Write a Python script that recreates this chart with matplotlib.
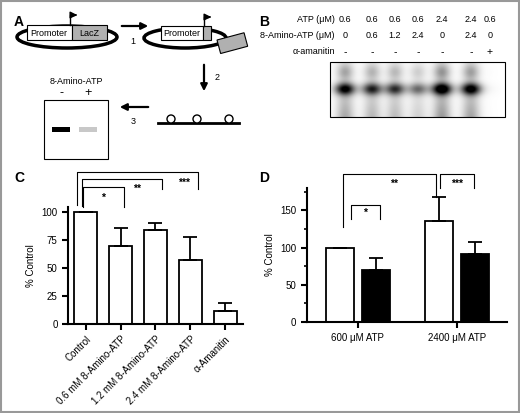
import matplotlib
matplotlib.use("Agg")
import matplotlib.pyplot as plt
import numpy as np
from matplotlib.patches import Rectangle, Ellipse, Circle

plt.rcParams["font.family"] = ["Liberation Sans", "DejaVu Sans"]

# panel B gel
atp_um = ["0.6", "0.6", "0.6", "0.6", "2.4", "2.4", "0.6"]
amino_um = ["0", "0.6", "1.2", "2.4", "0", "2.4", "0"]
amanitin = ["-", "-", "-", "-", "-", "-", "+"]
band_strength = [0.85, 0.7, 0.65, 0.45, 1.0, 0.9, 0.02]

# panel C
c_labels = ["Control", "0.6 mM 8-Amino-ATP", "1.2 mM 8-Amino-ATP",
            "2.4 mM 8-Amino-ATP", "\u03b1-Amanitin"]
c_values = [100, 70, 84, 57, 12]
c_err = [0, 16, 7, 21, 7]

# panel D
d_groups = ["600 \u03bcM ATP", "2400 \u03bcM ATP"]
d_ctrl = [100, 136]
d_ctrl_err = [0, 32]
d_amino = [70, 92]
d_amino_err = [16, 16]

fig = plt.figure(figsize=(5.2, 4.13), dpi=100)
fig.patch.set_facecolor("white")
ov = fig.add_axes([0, 0, 1, 1])
ov.set_xlim(0, 520)
ov.set_ylim(413, 0)
ov.axis("off")
ov.add_patch(Rectangle((1, 1), 518, 411, fill=False, ec="#999999", lw=1.5))

# ---- panel A ----
ov.text(14, 22, "A", fontsize=10, fontweight="bold", va="center")
ov.add_patch(Ellipse((67, 37), 100, 22, fill=False, lw=2.5, ec="black"))
ov.add_patch(Rectangle((27, 25), 45, 15, fc="white", ec="black", lw=0.8))
ov.add_patch(Rectangle((72, 25), 35, 15, fc="#b0b0b0", ec="black", lw=0.8))
ov.text(49, 33, "Promoter", fontsize=6.5, ha="center", va="center")
ov.text(89, 33, "LacZ", fontsize=6.5, ha="center", va="center")
ov.plot([70, 70, 74], [25, 15, 15], color="black", lw=1)
ov.annotate("", xy=(80, 15), xytext=(72, 15), arrowprops=dict(arrowstyle="-|>", color="black", lw=1))
ov.annotate("", xy=(151, 26), xytext=(119, 26), arrowprops=dict(arrowstyle="-|>", color="black", lw=1.6))
ov.text(133, 41, "1", fontsize=6.5, ha="center", va="center")

ov.add_patch(Ellipse((185, 38), 82, 20, fill=False, lw=2.5, ec="black"))
ov.add_patch(Rectangle((161, 26), 42, 14, fc="white", ec="black", lw=0.8))
ov.add_patch(Rectangle((203, 26), 8, 14, fc="#b0b0b0", ec="black", lw=0.8))
ov.text(182, 33, "Promoter", fontsize=6.5, ha="center", va="center")
ov.plot([204, 204, 208], [26, 17, 17], color="black", lw=1)
ov.annotate("", xy=(214, 17), xytext=(206, 17), arrowprops=dict(arrowstyle="-|>", color="black", lw=1))
ov.add_patch(Rectangle((217, 40), 28, 14, angle=-15, fc="#b0b0b0", ec="black", lw=0.8))
ov.annotate("", xy=(204, 94), xytext=(204, 62), arrowprops=dict(arrowstyle="-|>", color="black", lw=1.6))
ov.text(217, 77, "2", fontsize=6.5, ha="center", va="center")

ov.plot([158, 239], [123, 123], color="black", lw=2)
for cx in [171, 197, 229]:
    ov.add_patch(Circle((cx, 119), 4, fc="white", ec="black", lw=1, zorder=3))
ov.annotate("", xy=(117, 107), xytext=(151, 107), arrowprops=dict(arrowstyle="-|>", color="black", lw=1.6))
ov.text(133, 122, "3", fontsize=6.5, ha="center", va="center")

ov.text(76, 81, "8-Amino-ATP", fontsize=6.5, ha="center", va="center")
ov.text(62, 93, "-", fontsize=9, ha="center", va="center")
ov.text(88, 93, "+", fontsize=9, ha="center", va="center")
ov.add_patch(Rectangle((44, 100), 64, 59, fc="white", ec="black", lw=0.8))
ov.add_patch(Rectangle((52, 127), 18, 5, fc="black", ec="none"))
ov.add_patch(Rectangle((79, 127), 18, 5, fc="#c8c8c8", ec="none"))

# ---- panel B ----
ov.text(259, 22, "B", fontsize=10, fontweight="bold", va="center")
col_x = [345, 372, 395, 418, 442, 471, 490]
ov.text(335, 20, "ATP (\u03bcM)", fontsize=6.5, ha="right", va="center")
ov.text(335, 35, "8-Amino-ATP (\u03bcM)", fontsize=6.5, ha="right", va="center")
ov.text(335, 52, "\u03b1-amanitin", fontsize=6.5, ha="right", va="center")
for x, a, b, m in zip(col_x, atp_um, amino_um, amanitin):
    ov.text(x, 20, a, fontsize=6.5, ha="center", va="center")
    ov.text(x, 35, b, fontsize=6.5, ha="center", va="center")
    ov.text(x, 52, m, fontsize=7.5, ha="center", va="center")
gx = np.linspace(330, 505, 350)
gy = np.linspace(62, 117, 110)
X, Y = np.meshgrid(gx, gy)
img = np.zeros_like(X)
for x, s in zip(col_x, band_strength):
    img += 1.1 * s * np.exp(-((X - x) / 10) ** 2 - ((Y - 89) / 6) ** 2)
    img += 0.4 * s * np.exp(-((X - x) / 9) ** 2) * np.clip((Y - 62) / 55, 0.3, 1)
    img += 0.3 * s * np.exp(-((X - x) / 8) ** 2 - ((Y - 72) / 8) ** 2)
ov.imshow(1 - np.clip(img, 0, 1), cmap="gray", vmin=0, vmax=1,
          extent=(330, 505, 117, 62), aspect="auto", zorder=1)
ov.add_patch(Rectangle((330, 62), 175, 55, fill=False, ec="black", lw=0.8, zorder=2))

ov.text(14, 178, "C", fontsize=10, fontweight="bold", va="center")
ov.text(259, 178, "D", fontsize=10, fontweight="bold", va="center")


def style(ax):
    for s in ["top", "right"]:
        ax.spines[s].set_visible(False)
    for s in ["left", "bottom"]:
        ax.spines[s].set_linewidth(1.5)
    ax.tick_params(width=1.5, labelsize=7, length=4)


def bracket(ax, x0, x1, top, y0, y1, label, lx, ly):
    ax.plot([x0, x0, x1, x1], [y0, top, top, y1], color="black", lw=0.8, clip_on=False)
    ax.text(lx, ly, label, fontsize=7.5, fontweight="bold", ha="center", va="center")


# ---- panel C ----
axc = fig.add_axes([0.131, 0.2155, 0.336, 0.2835])
x = np.arange(len(c_values))
axc.bar(x, c_values, width=0.65, color="white", edgecolor="black", lw=1.3)
axc.errorbar(x, c_values, yerr=[np.zeros(len(c_err)), c_err], fmt="none", ecolor="black",
             elinewidth=1.3, capsize=5, capthick=1.3)
axc.set_xlim(-0.5, 4.5)
axc.set_ylim(0, 105)
axc.set_yticks([0, 25, 50, 75, 100])
axc.set_xticks(x)
axc.set_xticklabels(c_labels, rotation=45, ha="right", rotation_mode="anchor")
axc.set_ylabel("% Control", fontsize=7)
style(axc)
bracket(axc, -0.26, 3.23, 136, 107, 121, "***", 2.83, 127)
bracket(axc, -0.11, 2.2, 130, 106, 121, "**", 1.46, 121)
bracket(axc, -0.06, 1.09, 122.5, 105, 105, "*", 0.5, 113)

# ---- panel D ----
axd = fig.add_axes([0.590, 0.220, 0.385, 0.325])
g = np.arange(len(d_groups))
axd.bar(g - 0.18, d_ctrl, width=0.28, color="white", edgecolor="black", lw=1.3)
axd.bar(g + 0.18, d_amino, width=0.28, color="black", edgecolor="black", lw=1.3)
axd.errorbar(g - 0.18, d_ctrl, yerr=[np.zeros(2), d_ctrl_err], fmt="none", ecolor="black",
             elinewidth=1.3, capsize=5, capthick=1.3)
axd.errorbar(g + 0.18, d_amino, yerr=[np.zeros(2), d_amino_err], fmt="none", ecolor="black",
             elinewidth=1.3, capsize=5, capthick=1.3)
axd.set_xlim(-0.515, 1.505)
axd.set_ylim(0, 180)
axd.set_yticks([0, 50, 100, 150])
axd.set_yticks(np.arange(0, 180, 25), minor=True)
axd.set_xticks(g)
axd.set_xticklabels(d_groups)
axd.set_ylabel("% Control", fontsize=7)
style(axd)
axd.tick_params(which="minor", width=1.2, length=2.5)
bracket(axd, -0.15, 0.79, 199, 127, 168, "**", 0.37, 186)
bracket(axd, 0.83, 1.17, 199, 180, 180, "***", 1.0, 186)
bracket(axd, -0.07, 0.22, 157, 138, 138, "*", 0.075, 146)

fig.savefig("out.png", dpi=100, facecolor="white")
